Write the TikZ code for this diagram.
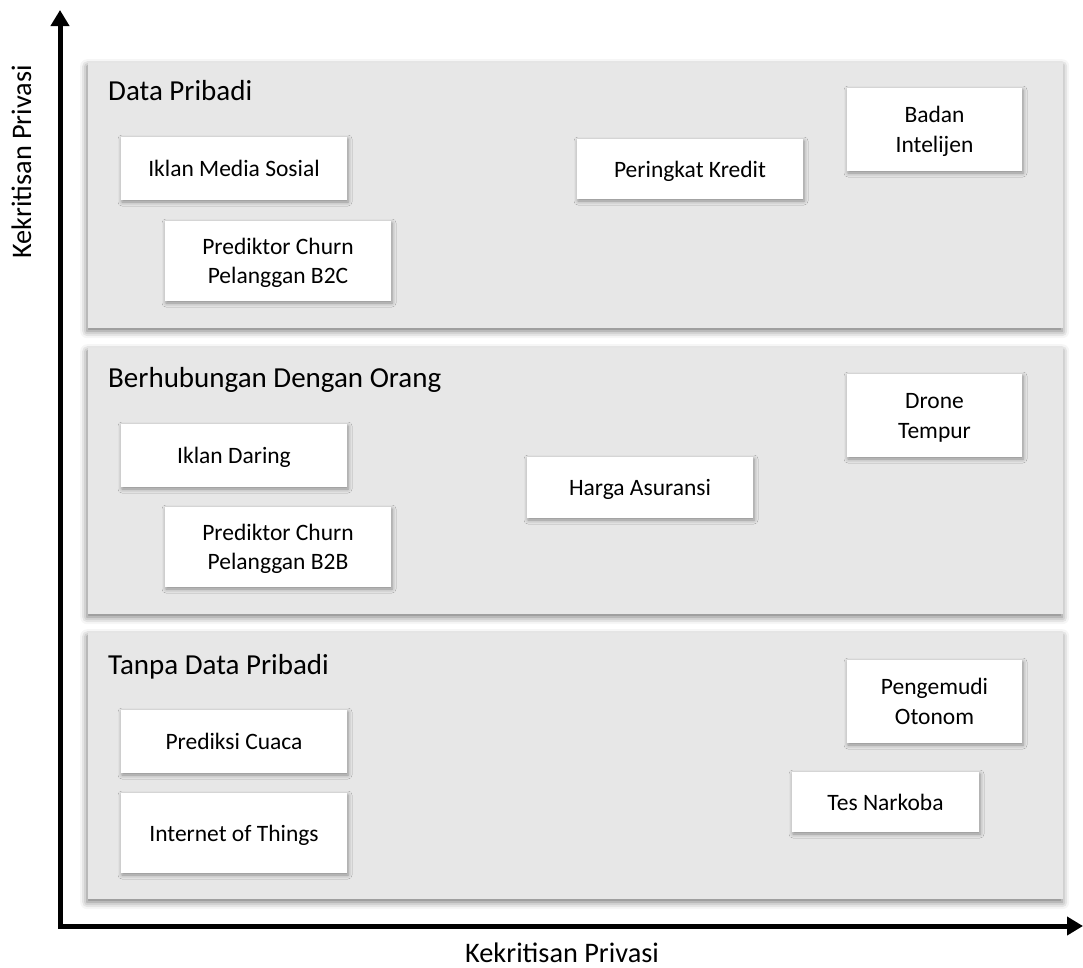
\documentclass[tikz,border=0pt]{standalone}
\usepackage{fontspec}
\setmainfont{Carlito}
\usetikzlibrary{arrows.meta,shadows.blur}

\definecolor{panelgray}{RGB}{231,231,231}

\tikzset{
  panel/.style={fill=panelgray, draw=none, anchor=north west, inner sep=0pt,
    blur shadow={shadow xshift=-1pt, shadow yshift=-3pt, shadow blur radius=7pt, shadow opacity=55}},
  paneltitle/.style={anchor=base west, inner sep=0pt, font=\fontsize{29}{35}\selectfont},
  item/.style={fill=white, draw=none, inner sep=0pt, align=center,
    text height=16pt, text depth=0pt,
    font=\fontsize{23.5}{29.5}\selectfont,
    blur shadow={shadow xshift=1pt, shadow yshift=-2pt, shadow blur radius=4pt, shadow opacity=40}},
  % two-line items: the height reaches from the last baseline to the first cap line
  itemtwo/.style={item, text height=45.5pt},
  axislabel/.style={inner sep=0pt, font=\fontsize{28.3}{34}\selectfont},
  axisline/.style={line width=5pt, line join=miter, {Triangle[width=18pt,length=16pt]}-{Triangle[width=18pt,length=16pt]}}
}

\begin{document}
\begin{tikzpicture}[x=1pt,y=-1pt]
  \useasboundingbox (0,0) rectangle (1083,967);

  % three category panels
  \node[panel, minimum width=975pt, minimum height=265pt] (pOne)   at (88,63)  {};
  \node[panel, minimum width=975pt, minimum height=266pt] (pTwo)   at (88,348) {};
  \node[panel, minimum width=975pt, minimum height=266pt] (pThree) at (88,633) {};

  \node[paneltitle] (tOne)   at (108,100) {Data Pribadi};
  \node[paneltitle] (tTwo)   at (108,387) {Berhubungan Dengan Orang};
  \node[paneltitle] (tThree) at (108,674) {Tanpa Data Pribadi};

  % personal data
  \node[item,    minimum width=226pt, minimum height=63pt] (ims)    at (234,168.5) {Iklan Media Sosial};
  \node[itemtwo, minimum width=226pt, minimum height=80pt] (btoc)   at (278,261)   {Prediktor Churn\\Pelanggan B2C};
  \node[item,    minimum width=226pt, minimum height=60pt] (kredit) at (690,169)   {Peringkat Kredit};
  \node[itemtwo, minimum width=175pt, minimum height=83pt] (intel)  at (934.5,129.5) {Badan\\Intelijen};

  % people related
  \node[item,    minimum width=226pt, minimum height=63pt] (daring) at (234,455.5) {Iklan Daring};
  \node[itemtwo, minimum width=226pt, minimum height=80pt] (btob)   at (278,547)   {Prediktor Churn\\Pelanggan B2B};
  \node[item,    minimum width=226pt, minimum height=61pt] (harga)  at (640,487.5) {Harga Asuransi};
  \node[itemtwo, minimum width=175pt, minimum height=83pt] (drone)  at (934.5,415.5) {Drone\\Tempur};

  % no personal data
  \node[item,    minimum width=226pt, minimum height=63pt] (cuaca)   at (234,741.5) {Prediksi Cuaca};
  \node[item,    minimum width=226pt, minimum height=80pt] (iot)     at (234,833)   {Internet of Things};
  \node[itemtwo, minimum width=175pt, minimum height=83pt] (otonom)  at (934.5,701.5) {Pengemudi\\Otonom};
  \node[item,    minimum width=187pt, minimum height=60pt] (narkoba) at (885.5,802) {Tes Narkoba};

  % axes
  \coordinate (ytip)   at (60,10);
  \coordinate (origin) at (60,926);
  \coordinate (xtip)   at (1083,926);
  \draw[axisline] (ytip) -- (origin) -- (xtip);

  \node[axislabel, anchor=base] (xlab) at (562,962) {Kekritisan Privasi};
  \node[axislabel, anchor=base, rotate=90] (ylab) at (31,162) {Kekritisan Privasi};
\end{tikzpicture}
\end{document}
